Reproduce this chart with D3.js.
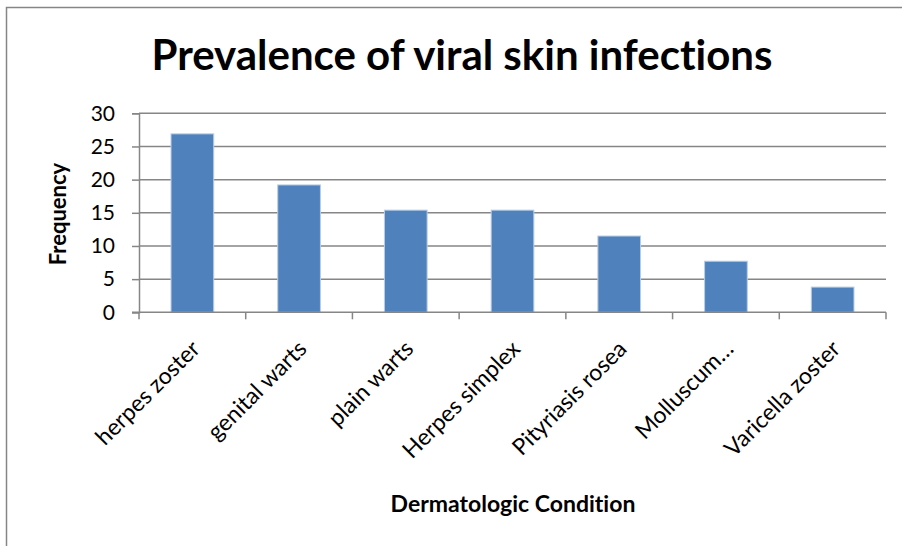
<!DOCTYPE html>
<html>
<head>
<meta charset="utf-8">
<script src="https://cdn.jsdelivr.net/npm/d3@7"></script>
<style>
  html, body { margin: 0; padding: 0; background: #fff; }
  svg { display: block; }
  text { font-family: Lato, "Open Sans", sans-serif; fill: #000; font-variant-ligatures: none; }
</style>
</head>
<body>
<svg id="chart" width="902" height="546"></svg>
<script>
// Viral skin infections by dermatologic condition
const categories = ["herpes zoster", "genital warts", "plain warts", "Herpes simplex",
                    "Pityriasis rosea", "Molluscum…", "Varicella zoster"];
const frequency = [26.9, 19.2, 15.4, 15.4, 11.5, 7.7, 3.8];
const yTicks = [0, 5, 10, 15, 20, 25, 30];

const title = "Prevalence of viral skin infections";
const xTitle = "Dermatologic Condition";
const yTitle = "Frequency";

const svg = d3.select("#chart");
const W = 902, H = 546;
const plot = { left: 139, right: 886, top: 113.3, bottom: 312.3 };

// outer chart frame
svg.append("rect")
  .attr("x", 6.5).attr("y", 7.5)
  .attr("width", W + 10).attr("height", H + 10)
  .attr("fill", "#fff").attr("stroke", "#868686").attr("stroke-width", 1.5);

const x = d3.scaleBand()
  .domain(categories)
  .range([plot.left, plot.right])
  .paddingInner(0.6).paddingOuter(0.3);

const y = d3.scaleLinear().domain([0, 30]).range([plot.bottom, plot.top]);

// horizontal gridlines
svg.append("g")
  .selectAll("line")
  .data(yTicks.filter(d => d > 0))
  .join("line")
  .attr("x1", plot.left).attr("x2", plot.right)
  .attr("y1", d => y(d)).attr("y2", d => y(d))
  .attr("stroke", "#868686").attr("stroke-width", 1.5);

// bars
svg.append("g")
  .selectAll("rect")
  .data(frequency)
  .join("rect")
  .attr("x", (d, i) => x(categories[i]))
  .attr("width", x.bandwidth())
  .attr("y", d => y(d))
  .attr("height", d => y(0) - y(d))
  .attr("fill", "#4f81bd")
  .attr("stroke", "#b9cde5").attr("stroke-width", 1);

// y axis
const yAxis = d3.axisLeft(y).tickValues(yTicks).tickSize(7).tickPadding(17);
const gy = svg.append("g").attr("transform", `translate(${plot.left},0)`).call(yAxis);
gy.select(".domain").attr("stroke", "#868686").attr("stroke-width", 1.5);
gy.selectAll(".tick line").attr("stroke", "#868686").attr("stroke-width", 1.5);
gy.selectAll(".tick text")
  .attr("font-family", "Lato, sans-serif")
  .attr("font-size", 21).attr("fill", "#000");

// x axis: baseline with ticks between categories
const boundaries = d3.range(categories.length + 1).map(i => plot.left + i * (plot.right - plot.left) / categories.length);
svg.append("line")
  .attr("x1", plot.left - 7).attr("x2", plot.right)
  .attr("y1", plot.bottom).attr("y2", plot.bottom)
  .attr("stroke", "#868686").attr("stroke-width", 1.5);
svg.append("g")
  .selectAll("line")
  .data(boundaries)
  .join("line")
  .attr("x1", d => d).attr("x2", d => d)
  .attr("y1", plot.bottom).attr("y2", plot.bottom + 7)
  .attr("stroke", "#868686").attr("stroke-width", 1.5);

// category labels, rotated
svg.append("g")
  .selectAll("text")
  .data(categories)
  .join("text")
  .attr("transform", d => `translate(${x(d) + x.bandwidth() / 2 + 9},${plot.bottom + 38}) rotate(-45)`)
  .attr("text-anchor", "end")
  .attr("font-size", 23)
  .text(d => d);

// titles
svg.append("text")
  .attr("x", 462).attr("y", 70)
  .attr("text-anchor", "middle")
  .attr("font-size", 42).attr("font-weight", "bold")
  .text(title);

svg.append("text")
  .attr("x", 513).attr("y", 512)
  .attr("text-anchor", "middle")
  .attr("font-size", 23).attr("font-weight", "bold")
  .text(xTitle);

svg.append("text")
  .attr("transform", "translate(66,214) rotate(-90)")
  .attr("text-anchor", "middle")
  .attr("font-size", 22).attr("font-weight", "bold")
  .text(yTitle);
</script>
</body>
</html>
